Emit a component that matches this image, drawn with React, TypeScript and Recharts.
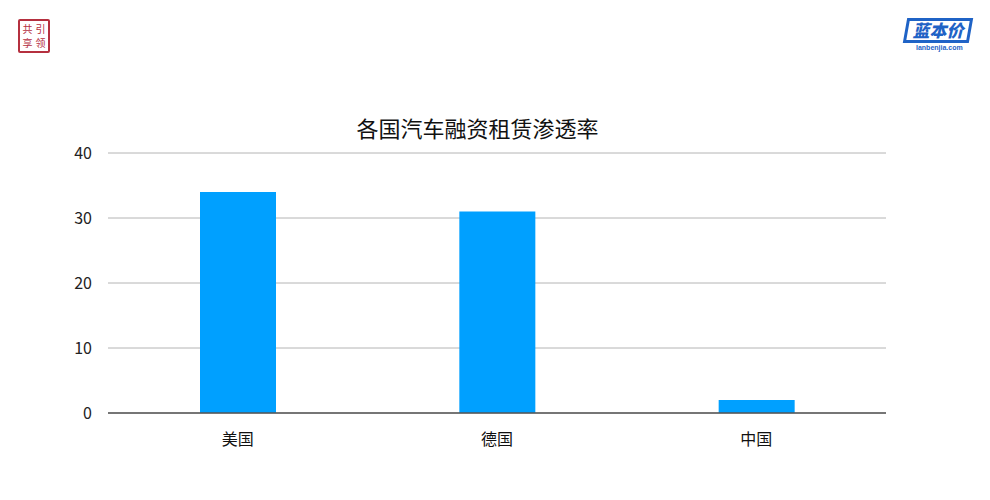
import { Bar, BarChart, CartesianGrid, XAxis, YAxis } from "recharts";

const countries = ["美国", "德国", "中国"];
const penetration = [34, 31, 2];
const yTicks = [0, 10, 20, 30, 40];

const data = countries.map((name, i) => ({ name, value: penetration[i] }));

const font = '"Noto Sans CJK SC", "Microsoft YaHei", sans-serif';

function Seal() {
  return (
    <div
      style={{
        position: "absolute",
        left: 18,
        top: 19,
        width: 32,
        height: 34,
        border: "2px solid #b5303f",
        borderRadius: 2,
        color: "#b5303f",
        fontFamily: font,
        fontSize: 10,
        lineHeight: "14px",
        display: "grid",
        gridTemplateColumns: "13px 13px",
        justifyContent: "center",
        alignContent: "center",
        textAlign: "center",
        boxSizing: "border-box",
      }}
    >
      <span>共</span>
      <span>引</span>
      <span>享</span>
      <span>领</span>
    </div>
  );
}

function Brand() {
  return (
    <div style={{ position: "absolute", left: 902, top: 18, width: 74, height: 36 }}>
      <div
        style={{
          position: "absolute",
          left: 3,
          top: 0,
          width: 66,
          height: 25,
          border: "3px solid #1f63c6",
          transform: "skewX(-10deg)",
          boxSizing: "border-box",
          background: "#fff",
        }}
      />
      <div
        style={{
          position: "absolute",
          left: 6,
          top: 2,
          width: 60,
          textAlign: "center",
          color: "#1f63c6",
          fontFamily: font,
          fontWeight: 900,
          fontStyle: "italic",
          fontSize: 17,
          lineHeight: "20px",
        }}
      >
        蓝本价
      </div>
      <div
        style={{
          position: "absolute",
          left: 14,
          top: 26,
          color: "#1f63c6",
          fontFamily: "Arial, sans-serif",
          fontSize: 7,
          fontWeight: 700,
        }}
      >
        lanbenjia.com
      </div>
    </div>
  );
}

export default function App() {
  return (
    <div
      style={{
        position: "absolute",
        left: 0,
        top: 0,
        width: 990,
        height: 500,
        background: "#fff",
        fontFamily: font,
      }}
    >
      <Seal />
      <Brand />
      <div
        style={{
          position: "absolute",
          left: 0,
          width: 955,
          top: 112,
          textAlign: "center",
          fontSize: 22,
          color: "#111",
          lineHeight: "30px",
        }}
      >
        各国汽车融资租赁渗透率
      </div>
      <BarChart
        width={990}
        height={500}
        data={data}
        margin={{ top: 153, right: 104, bottom: 0, left: 0 }}
        barCategoryGap="0%"
      >
        <CartesianGrid vertical={false} stroke="#b4b4b4" />
        <XAxis
          dataKey="name"
          tickLine={false}
          axisLine={{ stroke: "#555", strokeWidth: 1.5 }}
          tickMargin={15}
          tick={{ fill: "#111", fontSize: 16 }}
          height={87}
        />
        <YAxis
          domain={[0, 40]}
          ticks={yTicks}
          axisLine={false}
          tickLine={false}
          tickMargin={10}
          width={108}
          tick={{ fill: "#222", fontSize: 16 }}
        />
        <Bar dataKey="value" fill="#00a0ff" barSize={76} isAnimationActive={false} />
      </BarChart>
    </div>
  );
}
